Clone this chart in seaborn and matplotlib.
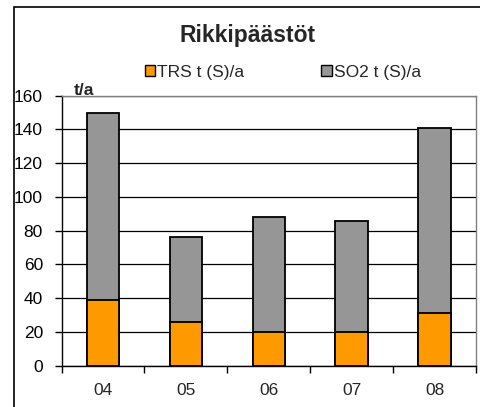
import matplotlib
matplotlib.use("Agg")
import matplotlib.pyplot as plt
import seaborn as sns
import numpy as np
from matplotlib.patches import Patch, Rectangle

# Data
years = ["04", "05", "06", "07", "08"]
trs = [39, 26, 20, 20, 31]
so2 = [111, 50, 68, 66, 110]
series_names = ["TRS t (S)/a", "SO2 t (S)/a"]

orange = "#FF9900"
grey = "#969696"

sns.set_style("white")
plt.rcParams['font.family'] = ['Liberation Sans', 'DejaVu Sans']

totals = [a + b for a, b in zip(trs, so2)]

fig = plt.figure(figsize=(4.81, 4.07), dpi=100)
ax = fig.add_axes([0.128, 0.1015, 0.862, 0.6634])

# stacked bars: total (grey) then TRS (orange) on top of it
sns.barplot(x=years, y=totals, color=grey, width=0.395, edgecolor="black",
            linewidth=1.3, saturation=1, ax=ax, zorder=3)
sns.barplot(x=years, y=trs, color=orange, width=0.395, edgecolor="black",
            linewidth=1.3, saturation=1, ax=ax, zorder=4)

ax.set_xlim(-0.5, 4.5)
ax.set_ylim(0, 160)
ax.set_yticks(np.arange(0, 161, 20))
ax.yaxis.grid(True, color="black", linewidth=0.9)
ax.set_axisbelow(True)

for s in ["left", "bottom"]:
    ax.spines[s].set_color("black")
    ax.spines[s].set_linewidth(1.0)
for s in ["top", "right"]:
    ax.spines[s].set_visible(True)
    ax.spines[s].set_color("#808080")
    ax.spines[s].set_linewidth(1.0)

ax.tick_params(axis="y", direction="out", length=5, width=1, pad=8.4,
               labelsize=12.5, left=True, colors="black")
ax.tick_params(axis="x", which="major", length=0, pad=12.5, labelsize=12.5)
ax.set_xticks(np.arange(-0.5, 5, 1), minor=True)
ax.tick_params(axis="x", which="minor", direction="out", length=5, width=1,
               bottom=True, colors="black")
ax.set_xlabel("")
ax.set_ylabel("")

fig.text(0.153, 0.766, "t/a", fontsize=12.5, fontweight="bold", ha="left", va="baseline")
fig.text(0.515, 0.912, "Rikkipäästöt", fontsize=16.5, fontweight="bold", ha="center", va="center")

handles = [Patch(facecolor=orange, edgecolor="black", linewidth=1),
           Patch(facecolor=grey, edgecolor="black", linewidth=1)]
fig.legend(handles, series_names, loc="center", bbox_to_anchor=(0.588, 0.823), ncol=2,
           frameon=False, fontsize=12.5, handlelength=0.6, handleheight=0.6,
           handletextpad=0.1, columnspacing=4.45, borderaxespad=0)

# outer chart frame (cropped on right and bottom)
frame = Rectangle((14 / 481, -0.1), 1.2, 1 - 7 / 407 + 0.1, transform=fig.transFigure,
                  fill=False, edgecolor="black", linewidth=1.2)
fig.patches.append(frame)

fig.savefig("out.png", dpi=100)
